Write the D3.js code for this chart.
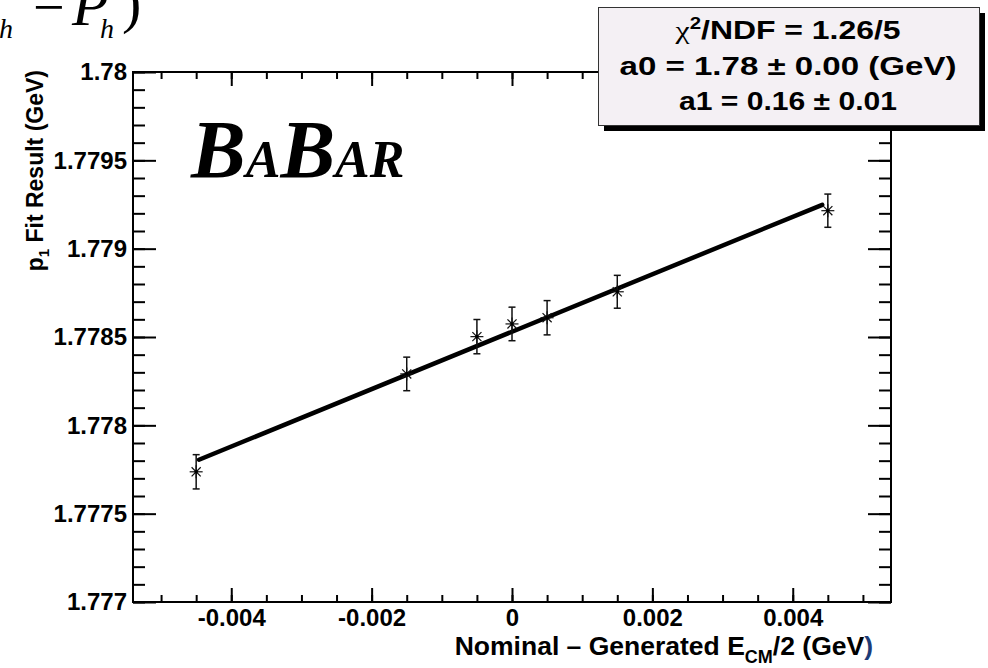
<!DOCTYPE html>
<html>
<head>
<meta charset="utf-8">
<script src="https://cdn.jsdelivr.net/npm/d3@7"></script>
<style>
  body { margin: 0; background: #fff; }
  svg { display: block; }
  .tick line { stroke: #000; stroke-width: 2; }
  .tick text { font-family: "Liberation Sans", Arial, sans-serif; font-weight: bold; font-size: 24px; fill: #000; }
</style>
</head>
<body>
<div id="chart"></div>
<script>
// measured points (x = nominal - generated Ecm/2, y = fitted p1)
var xVals = [-0.0045, -0.0015, -0.0005, 0, 0.0005, 0.0015, 0.0045];
var yVals = [1.777737, 1.778291, 1.778502, 1.778574, 1.778609, 1.778756, 1.779215];
var yErrs = [0.000097, 0.000095, 0.000097, 0.000095, 0.000097, 0.000093, 0.000094];

// linear fit p1 = a0 + a1*x
var fitA0 = 1.77853;
var fitA1 = 0.1625;
var fitRange = [-0.00446, 0.00442];

var xDomain = [-0.0054, 0.0054];
var yDomain = [1.777, 1.78];
var xMajor = [-0.004, -0.002, 0, 0.002, 0.004];
var xMajorLabels = ["-0.004", "-0.002", "0", "0.002", "0.004"];
var yMajor = [1.777, 1.7775, 1.778, 1.7785, 1.779, 1.7795, 1.78];
var yMajorLabels = ["1.777", "1.7775", "1.778", "1.7785", "1.779", "1.7795", "1.78"];

var statsLines = ["/NDF = 1.26/5", "a0 = 1.78 \u00b1 0.00 (GeV)", "a1 = 0.16 \u00b1 0.01"];

var W = 988, H = 668;
var L = 133, R = 891, T = 72, B = 602;

var svg = d3.select("#chart").append("svg").attr("width", W).attr("height", H);

var x = d3.scaleLinear().domain(xDomain).range([L, R]);
var y = d3.scaleLinear().domain(yDomain).range([B, T]);

var xMinor = d3.range(-50, 51, 5).map(function(d){ return d / 10000; });
var yMinor = d3.range(17770, 17801).map(function(d){ return d / 10000; });

function labelFor(list, labels){
  return function(d){
    var i = list.findIndex(function(v){ return Math.abs(v - d) < 1e-9; });
    return i < 0 ? "" : labels[i];
  };
}

// bottom axis
svg.append("g").attr("transform", "translate(0," + B + ")")
  .call(d3.axisBottom(x).tickValues(xMinor).tickSize(-7).tickFormat(""))
  .call(function(g){ g.select(".domain").remove(); });
svg.append("g").attr("transform", "translate(0," + B + ")")
  .call(d3.axisBottom(x).tickValues(xMajor).tickSize(-14).tickPadding(7).tickFormat(labelFor(xMajor, xMajorLabels)))
  .call(function(g){ g.select(".domain").remove(); });
// top axis
svg.append("g").attr("transform", "translate(0," + T + ")")
  .call(d3.axisTop(x).tickValues(xMinor).tickSize(-7).tickFormat(""))
  .call(function(g){ g.select(".domain").remove(); });
svg.append("g").attr("transform", "translate(0," + T + ")")
  .call(d3.axisTop(x).tickValues(xMajor).tickSize(-14).tickFormat(""))
  .call(function(g){ g.select(".domain").remove(); });
// left axis
svg.append("g").attr("transform", "translate(" + L + ",0)")
  .call(d3.axisLeft(y).tickValues(yMinor).tickSize(-12).tickFormat(""))
  .call(function(g){ g.select(".domain").remove(); });
svg.append("g").attr("transform", "translate(" + L + ",0)")
  .call(d3.axisLeft(y).tickValues(yMajor).tickSize(-23).tickPadding(6).tickFormat(labelFor(yMajor, yMajorLabels)))
  .call(function(g){ g.select(".domain").remove(); });
// right axis
svg.append("g").attr("transform", "translate(" + R + ",0)")
  .call(d3.axisRight(y).tickValues(yMinor).tickSize(-12).tickFormat(""))
  .call(function(g){ g.select(".domain").remove(); });
svg.append("g").attr("transform", "translate(" + R + ",0)")
  .call(d3.axisRight(y).tickValues(yMajor).tickSize(-23).tickFormat(""))
  .call(function(g){ g.select(".domain").remove(); });

// frame
svg.append("rect").attr("x", L).attr("y", T).attr("width", R - L).attr("height", B - T)
  .attr("fill", "none").attr("stroke", "#000").attr("stroke-width", 2);

// fit line
svg.append("line")
  .attr("x1", x(fitRange[0])).attr("y1", y(fitA0 + fitA1 * fitRange[0]))
  .attr("x2", x(fitRange[1])).attr("y2", y(fitA0 + fitA1 * fitRange[1]))
  .attr("stroke", "#000").attr("stroke-width", 4.5).attr("stroke-linecap", "round");

// points with error bars
var pts = svg.append("g").selectAll("g").data(xVals).enter().append("g")
  .attr("stroke", "#111").attr("stroke-width", 1.5);
pts.append("line")
  .attr("x1", function(d){ return x(d); }).attr("x2", function(d){ return x(d); })
  .attr("y1", function(d, i){ return y(yVals[i] - yErrs[i]); })
  .attr("y2", function(d, i){ return y(yVals[i] + yErrs[i]); });
[1, -1].forEach(function(s){
  pts.append("line")
    .attr("x1", function(d){ return x(d) - 3.5; }).attr("x2", function(d){ return x(d) + 3.5; })
    .attr("y1", function(d, i){ return y(yVals[i] + s * yErrs[i]); })
    .attr("y2", function(d, i){ return y(yVals[i] + s * yErrs[i]); });
});
var ms = 6.5;
[[ms, 0], [0, ms], [ms * 0.7, ms * 0.7], [ms * 0.7, -ms * 0.7]].forEach(function(v){
  pts.append("line")
    .attr("stroke-width", 1.2)
    .attr("x1", function(d){ return x(d) - v[0]; }).attr("x2", function(d){ return x(d) + v[0]; })
    .attr("y1", function(d, i){ return y(yVals[i]) - v[1]; })
    .attr("y2", function(d, i){ return y(yVals[i]) + v[1]; });
});
pts.append("circle")
  .attr("cx", function(d){ return x(d); }).attr("cy", function(d, i){ return y(yVals[i]); })
  .attr("r", 1.8).attr("fill", "#000").attr("stroke", "none");

// axis titles
var xt = svg.append("text")
  .attr("x", 873).attr("y", 655).attr("text-anchor", "end")
  .style("font-family", "Liberation Sans, Arial, sans-serif").style("font-weight", "bold").style("font-size", "26.5px");
xt.append("tspan").text("Nominal \u2013 Generated E");
xt.append("tspan").attr("dy", 8).style("font-size", "18px").text("CM");
xt.append("tspan").attr("dy", -8).text("/2 (GeV");
xt.append("tspan").attr("fill", "#1d3c78").text(")");

var yt = svg.append("text")
  .attr("transform", "translate(43,70) rotate(-90)").attr("text-anchor", "end")
  .style("font-family", "Liberation Sans, Arial, sans-serif").style("font-weight", "bold").style("font-size", "23px");
yt.append("tspan").text("p");
yt.append("tspan").attr("dy", 6).style("font-size", "15px").text("1");
yt.append("tspan").attr("dy", -6).text(" Fit Result (GeV)");

// BABAR logo
var logo = svg.append("text").attr("x", 191).attr("y", 177)
  .style("font-family", "Liberation Serif, Times New Roman, serif").style("font-weight", "bold").style("font-style", "italic");
logo.append("tspan").style("font-size", "82px").text("B");
logo.append("tspan").style("font-size", "52px").text("A");
logo.append("tspan").style("font-size", "82px").text("B");
logo.append("tspan").style("font-size", "52px").text("AR");

// fragment of formula cut at the top edge
var serif = "Liberation Serif, Times New Roman, serif";
svg.append("text").attr("x", -1).attr("y", 38).style("font-family", serif).style("font-style", "italic").style("font-size", "28px").text("h");
svg.append("text").attr("x", 33).attr("y", 26).style("font-family", serif).style("font-size", "56px").text("\u2212");
svg.append("text").attr("x", 72).attr("y", 25).style("font-family", serif).style("font-style", "italic").style("font-size", "60px").text("P");
svg.append("text").attr("x", 100).attr("y", 38).style("font-family", serif).style("font-style", "italic").style("font-size", "28px").text("h");
svg.append("text").attr("x", 122).attr("y", 22).style("font-family", serif).style("font-size", "58px").text(")");

// stats box
svg.append("rect").attr("x", 604).attr("y", 13).attr("width", 381).attr("height", 118).attr("fill", "#000");
svg.append("rect").attr("x", 598.5).attr("y", 7.5).attr("width", 381).attr("height", 118)
  .attr("fill", "#f4f0f4").attr("stroke", "#333").attr("stroke-width", 1);
var statW = [225, 337, 218];
var statY = [39, 75, 110];
var st = svg.append("g").selectAll("text").data(statsLines).enter().append("text")
  .attr("x", 788).attr("y", function(d, i){ return statY[i]; })
  .attr("text-anchor", "middle")
  .attr("textLength", function(d, i){ return statW[i]; })
  .attr("lengthAdjust", "spacingAndGlyphs")
  .style("font-family", "Liberation Sans, Arial, sans-serif").style("font-weight", "bold").style("font-size", "25px");
st.filter(function(d, i){ return i === 0; }).each(function(){
  var t = d3.select(this);
  t.append("tspan").style("font-family", "Liberation Serif, serif").style("font-weight", "normal").text("\u03c7");
  t.append("tspan").attr("dy", -10).style("font-size", "16px").text("2");
  t.append("tspan").attr("dy", 10).text(statsLines[0]);
});
st.filter(function(d, i){ return i > 0; }).text(function(d){ return d; });
</script>
</body>
</html>
